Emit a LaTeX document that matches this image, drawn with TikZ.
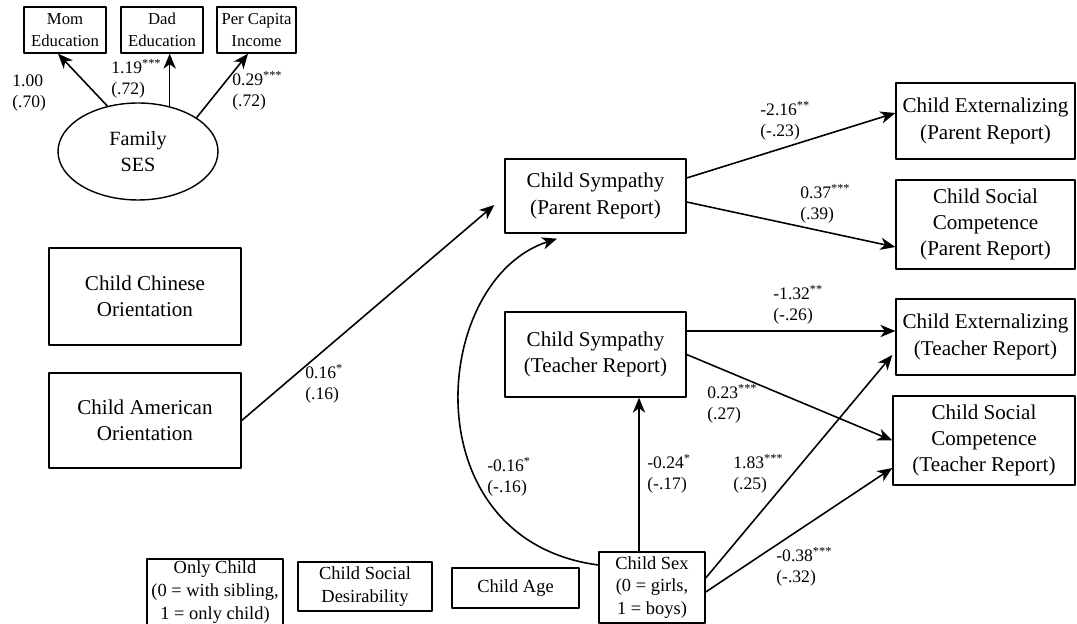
\documentclass[tikz,border=0pt]{standalone}
\usepackage{fontspec}
\setmainfont{Liberation Serif}
\usetikzlibrary{calc}
\usetikzlibrary{arrows.meta}
\usetikzlibrary{shapes.geometric}
\newcommand{\stars}[1]{\textsuperscript{#1}}
\tikzset{
  box/.style={draw,line width=0.8pt,inner sep=1pt,align=center,font=\fontsize{12}{15}\selectfont},
  smallbox/.style={box,font=\fontsize{9.5}{12.5}\selectfont},
  lowbox/.style={box,font=\fontsize{10.5}{13}\selectfont},
  coef/.style={anchor=west,align=left,inner sep=0pt,font=\fontsize{10}{12}\selectfont},
  link/.style={->,line width=0.9pt}
}

\begin{document}
\begin{tikzpicture}[line cap=round,line join=round,>={Stealth[length=8.5pt,width=7pt,inset=2.5pt]},x=0.02cm,y=-0.02cm]
  \useasboundingbox (0,0) rectangle (1077,624);
  % indicators of family SES
  \node[smallbox,minimum width=1.64cm,minimum height=0.92cm] (momedu) at (65,30) {Mom\\Education};
  \node[smallbox,minimum width=1.64cm,minimum height=0.92cm] (dadedu) at (162,30) {Dad\\Education};
  \node[smallbox,minimum width=1.58cm,minimum height=0.92cm] (income) at (256.5,30) {Per Capita\\Income};
  \node[box,ellipse,font=\fontsize{11.5}{15}\selectfont,minimum width=3.2cm,minimum height=1.94cm] (ses) at (138,151.5) {Family\\SES};
  % orientations
  \node[box,minimum width=3.84cm,minimum height=1.94cm] (chnori) at (145,296.5) {Child Chinese\\Orientation};
  \node[box,minimum width=3.84cm,minimum height=1.90cm] (ameori) at (145,420.5) {Child American\\Orientation};
  % sympathy
  \node[box,minimum width=3.62cm,minimum height=1.48cm] (cspar) at (595.5,196) {Child Sympathy\\(Parent Report)};
  \node[box,minimum width=3.62cm,minimum height=1.70cm] (cstea) at (595.5,354.5) {Child Sympathy\\(Teacher Report)};
  % outcomes
  \node[box,minimum width=3.58cm,minimum height=1.52cm] (cepar) at (985.5,121) {Child Externalizing\\(Parent Report)};
  \node[box,minimum width=3.58cm,minimum height=1.78cm] (cscpar) at (985.5,224.5) {Child Social\\Competence\\(Parent Report)};
  \node[box,minimum width=3.58cm,minimum height=1.52cm] (cetea) at (985.5,337) {Child Externalizing\\(Teacher Report)};
  \node[box,minimum width=3.64cm,minimum height=1.78cm] (csctea) at (984,440.5) {Child Social\\Competence\\(Teacher Report)};
  % covariates
  \node[lowbox,minimum width=2.72cm,minimum height=1.24cm] (onlych) at (215,592) {Only Child\\(0 = with sibling,\\1 = only child)};
  \node[lowbox,minimum width=2.68cm,minimum height=0.98cm] (socdes) at (365,586.5) {Child Social\\Desirability};
  \node[lowbox,minimum width=2.54cm,minimum height=0.80cm] (chage) at (515.5,588) {Child Age};
  \node[lowbox,minimum width=2.12cm,minimum height=1.42cm] (csex) at (652,587.5) {Child Sex\\(0 = girls,\\1 = boys)};

  \draw[link] (ses.124) -- ([xshift=-0.14cm]momedu.south);
  \draw[link] (ses.55) -- (ses.55 |- dadedu.south);
  \draw[link] (ses.30) -- ([xshift=-0.17cm]income.south);
  \draw[link] (ameori.east) -- ($(cspar.west)+(-10,9)$);
  \draw[link] ($(cspar.east)+(0,-18)$) -- ($(cepar.west)+(0,-8)$);
  \draw[link] ($(cspar.east)+(0,6)$) -- ($(cscpar.west)+(0,22.5)$);
  \draw[link] ($(cstea.east)+(0,-23.5)$) -- ($(cetea.west)+(0,-6)$);
  \draw[link] (cstea.east) -- (csctea.west);
  \draw[link] ($(csex.east)+(0,-9.5)$) -- ($(cetea.west)+(-3,18)$);
  \draw[link] ($(csex.east)+(0,4.5)$) -- ($(csctea.west)+(0,27.5)$);
  \coordinate (sexup) at ($(csex.north)+(-13,0)$);
  \draw[link] (sexup) -- (sexup |- cstea.south);
  \draw[link] ($(csex.west)+(0,-22.5)$) .. controls (410,540) and (430,280) .. ($(cspar.south)+(-38.5,5)$);

  % path coefficients
  \node[coef] (c100) at (12,93) {1.00\\(.70)};
  \node[coef] (c119) at (111,79) {1.19\stars{***}\\(.72)};
  \node[coef] (c029) at (232,91) {0.29\stars{***}\\(.72)};
  \node[coef] (c016) at (305,384) {0.16\stars{*}\\(.16)};
  \node[coef] (c216) at (760,121) {-2.16\stars{**}\\(-.23)};
  \node[coef] (c037) at (800,204) {0.37\stars{***}\\(.39)};
  \node[coef] (c132) at (773,305) {-1.32\stars{**}\\(-.26)};
  \node[coef] (c023) at (707,404) {0.23\stars{***}\\(.27)};
  \node[coef] (c183) at (733,474) {1.83\stars{***}\\(.25)};
  \node[coef] (c024) at (647,474) {-0.24\stars{*}\\(-.17)};
  \node[coef] (c038) at (776,567) {-0.38\stars{***}\\(-.32)};
  \node[coef] (cn016) at (487,477) {-0.16\stars{*}\\(-.16)};
\end{tikzpicture}
\end{document}
